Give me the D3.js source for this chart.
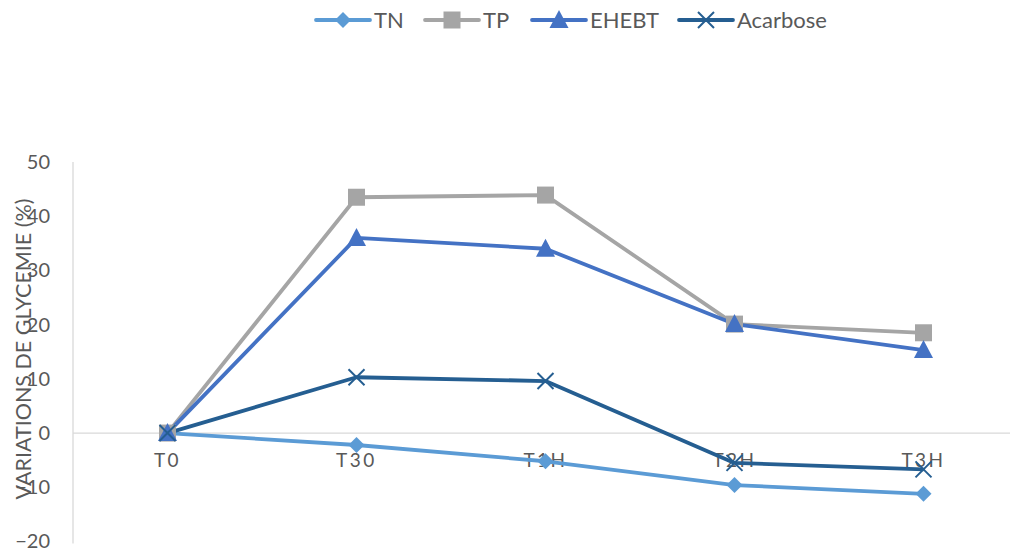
<!DOCTYPE html>
<html>
<head>
<meta charset="utf-8">
<script src="https://cdn.jsdelivr.net/npm/d3@7"></script>
<style>
  body { margin: 0; background: #fff; }
  text { font-family: Lato, "Open Sans", sans-serif; fill: #595959; }
</style>
</head>
<body>
<div id="chart"></div>
<script>
// Time points and series values (% variation of glycemia)
var categories = ["T0", "T30", "T1H", "T2H", "T3H"];
var yTicks = [-20, -10, 0, 10, 20, 30, 40, 50];
var seriesNames = ["TN", "TP", "EHEBT", "Acarbose"];
var tnValues = [0, -2.2, -5.2, -9.6, -11.2];
var tpValues = [0, 43.5, 43.9, 20.1, 18.5];
var ehebtValues = [0, 36, 34, 20.1, 15.3];
var acarboseValues = [0, 10.3, 9.6, -5.5, -6.7];

var width = 1010, height = 554;
var colors = ["#5b9bd5", "#a5a5a5", "#4472c4", "#255e91"];
var symbols = ["diamond", "square", "triangle", "cross"];

var series = [tnValues, tpValues, ehebtValues, acarboseValues].map(function (v, i) {
  return { name: seriesNames[i], values: v, color: colors[i], symbol: symbols[i] };
});

var svg = d3.select("#chart").append("svg")
  .attr("width", width)
  .attr("height", height);

// Scales
var xScale = d3.scalePoint()
  .domain(categories)
  .range([73, 1018])
  .padding(0.5);

var yScale = d3.scaleLinear()
  .domain([-20, 50])
  .range([541.5, 162]);

// Vertical axis line
svg.append("line")
  .attr("x1", 73).attr("x2", 73)
  .attr("y1", yScale(50)).attr("y2", yScale(-20) + 2)
  .attr("stroke", "#d9d9d9").attr("stroke-width", 1.3);

// Zero line (horizontal category axis)
svg.append("line")
  .attr("x1", 73).attr("x2", width)
  .attr("y1", yScale(0)).attr("y2", yScale(0))
  .attr("stroke", "#d9d9d9").attr("stroke-width", 1.3);

// Y tick labels
var yAxis = d3.axisLeft(yScale).tickValues(yTicks).tickSize(0).tickPadding(0);
var yg = svg.append("g").attr("transform", "translate(50,0)").call(yAxis);
yg.select(".domain").remove();
yg.selectAll("text")
  .style("font-size", "20px")
  .style("font-family", "Lato, 'Open Sans', sans-serif")
  .attr("fill", "#595959");

// Y axis title
svg.append("text")
  .attr("transform", "translate(31,349) rotate(-90)")
  .attr("text-anchor", "middle")
  .style("font-size", "21.5px")
  .text("VARIATIONS DE GLYCEMIE (%)");

// Line generator
var line = d3.line()
  .x(function (d, i) { return xScale(categories[i]); })
  .y(function (d) { return yScale(d); });

function drawSymbol(g, s, x, y) {
  if (s.symbol === "diamond") {
    g.append("path")
      .attr("d", "M0,-8L8,0L0,8L-8,0Z")
      .attr("transform", "translate(" + x + "," + y + ")")
      .attr("fill", s.color);
  } else if (s.symbol === "square") {
    g.append("rect")
      .attr("x", x - 8.5).attr("y", y - 8.5)
      .attr("width", 17).attr("height", 17)
      .attr("fill", s.color);
  } else if (s.symbol === "triangle") {
    g.append("path")
      .attr("d", "M0,-10L9.5,8L-9.5,8Z")
      .attr("transform", "translate(" + x + "," + y + ")")
      .attr("fill", s.color);
  } else {
    g.append("path")
      .attr("d", "M-8,-8L8,8M-8,8L8,-8")
      .attr("transform", "translate(" + x + "," + y + ")")
      .attr("stroke", s.color).attr("stroke-width", 2).attr("fill", "none");
  }
}

// X tick labels (drawn under lines)
svg.append("g").selectAll("text")
  .data(categories)
  .enter().append("text")
  .attr("x", function (d) { return xScale(d); })
  .attr("y", yScale(0) + 34)
  .attr("text-anchor", "middle")
  .style("font-size", "19px")
  .style("letter-spacing", "2.5px")
  .text(function (d) { return d; });

// Series lines and markers
series.forEach(function (s) {
  svg.append("path")
    .datum(s.values)
    .attr("d", line)
    .attr("fill", "none")
    .attr("stroke", s.color)
    .attr("stroke-width", 3.8)
    .attr("stroke-linejoin", "round");
});
series.forEach(function (s) {
  var g = svg.append("g");
  s.values.forEach(function (v, i) {
    drawSymbol(g, s, xScale(categories[i]), yScale(v));
  });
});

// Legend
var legendX = [316, 425, 532, 679];
series.forEach(function (s, i) {
  var g = svg.append("g");
  var x0 = legendX[i];
  g.append("line")
    .attr("x1", x0).attr("x2", x0 + 54)
    .attr("y1", 20).attr("y2", 20)
    .attr("stroke", s.color).attr("stroke-width", 3.8)
    .attr("stroke-linecap", "round");
  drawSymbol(g, s, x0 + 27, 20);
  g.append("text")
    .attr("x", x0 + 58)
    .attr("y", 27.5)
    .style("font-size", "22px")
    .text(s.name);
});
</script>
</body>
</html>
